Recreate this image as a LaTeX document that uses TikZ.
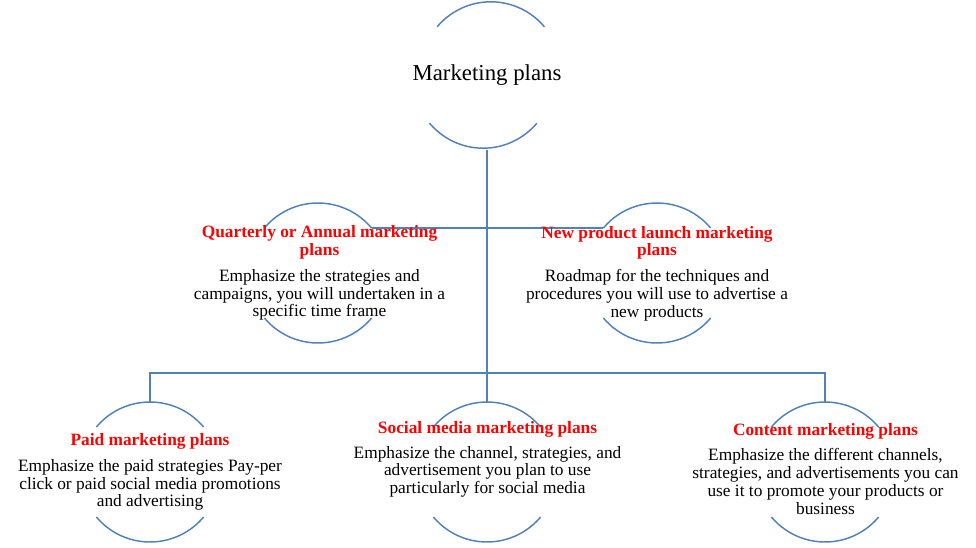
\documentclass[tikz,border=0pt]{standalone}
\usepackage{fontspec}
\setmainfont{Liberation Serif}
\definecolor{arcblue}{RGB}{79,129,189}
\newcommand\redtitle[1]{\textcolor{red}{\textbf{#1}}}
\begin{document}
\begin{tikzpicture}[x=0.75pt,y=-0.75pt,
  ring/.style={circle,minimum size=105pt,inner sep=0pt,outer sep=0pt},
  arcline/.style={draw=arcblue,line width=1.1pt},
  conn/.style={draw=arcblue,line width=1.1pt},
  txt/.style={align=center,inner sep=0pt,font=\fontsize{13}{13.3}\selectfont}]
\useasboundingbox (0,0) rectangle (976,547);
\node[ring,font=\fontsize{17.1}{20}\selectfont] (top) at (487,75) {Marketing plans};
\node[ring] (q) at (318,273) {};
\node[ring] (np) at (657,273) {};
\node[ring] (paid) at (150,472) {};
\node[ring] (social) at (487,472) {};
\node[ring] (content) at (825,472) {};
\foreach \n in {top,q,np,paid,social,content}{
  \draw[arcline] (\n.40) arc[start angle=40,end angle=140,radius=52.5pt];
  \draw[arcline] (\n.220) arc[start angle=220,end angle=320,radius=52.5pt];
}
\coordinate (bar) at (487,373);
\draw[conn] (top.south) -- (social.north);
\draw[conn] (q.40) -- (np.140);
\draw[conn] (paid.north) |- (bar) -| (content.north);
\node[txt] (qt) at (319.5,273) {\redtitle{Quarterly or Annual marketing}\\\redtitle{plans}\\[6.2pt]Emphasize the strategies and\\campaigns, you will undertaken in a\\specific time frame};
\node[txt] (npt) at (657,273.5) {\redtitle{New product launch marketing}\\\redtitle{plans}\\[6.2pt]Roadmap for the techniques and\\procedures you will use to advertise a\\new products};
\node[txt] (paidt) at (150,472) {\redtitle{Paid marketing plans}\\[6.2pt]Emphasize the paid strategies Pay-per\\click or paid social media promotions\\and advertising};
\node[txt] (socialt) at (487.5,459.5) {\redtitle{Social media marketing plans}\\[5pt]Emphasize the channel, strategies, and\\advertisement you plan to use\\particularly for social media};
\node[txt] (contentt) at (825.5,469) {\redtitle{Content marketing plans}\\[5.5pt]Emphasize the different channels,\\strategies, and advertisements you can\\use it to promote your products or\\business};
\end{tikzpicture}
\end{document}
